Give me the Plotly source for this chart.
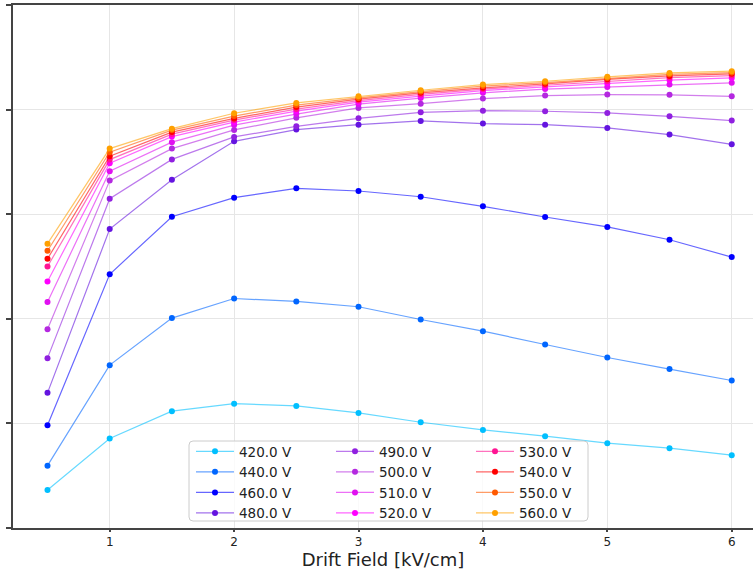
import plotly.graph_objects as go

# Drift field scan points [kV/cm]
drift_field = [0.5, 1.0, 1.5, 2.0, 2.5, 3.0, 3.5, 4.0, 4.5, 5.0, 5.5, 6.0]

# Measured response per amplification voltage (arbitrary units)
v420 = [0.364, 0.855, 1.117, 1.189, 1.167, 1.100, 1.011, 0.938, 0.878, 0.811, 0.763, 0.696]
v440 = [0.596, 1.557, 2.007, 2.194, 2.166, 2.115, 1.993, 1.882, 1.754, 1.630, 1.519, 1.410]
v460 = [0.983, 2.426, 2.976, 3.158, 3.247, 3.222, 3.167, 3.075, 2.973, 2.878, 2.756, 2.590]
v480 = [1.292, 2.858, 3.330, 3.697, 3.809, 3.856, 3.892, 3.866, 3.856, 3.825, 3.761, 3.668]
v490 = [1.624, 3.148, 3.524, 3.739, 3.840, 3.917, 3.974, 3.990, 3.984, 3.968, 3.936, 3.895]
v500 = [1.901, 3.321, 3.627, 3.806, 3.921, 4.016, 4.057, 4.105, 4.134, 4.144, 4.141, 4.127]
v510 = [2.160, 3.411, 3.689, 3.852, 3.957, 4.053, 4.110, 4.160, 4.196, 4.217, 4.239, 4.256]
v520 = [2.357, 3.488, 3.742, 3.880, 3.986, 4.072, 4.129, 4.182, 4.217, 4.249, 4.282, 4.303]
v530 = [2.500, 3.522, 3.766, 3.900, 4.005, 4.086, 4.145, 4.196, 4.233, 4.273, 4.306, 4.325]
v540 = [2.574, 3.555, 3.785, 3.916, 4.024, 4.100, 4.160, 4.208, 4.246, 4.289, 4.322, 4.342]
v550 = [2.651, 3.593, 3.804, 3.938, 4.043, 4.112, 4.172, 4.225, 4.258, 4.301, 4.337, 4.354]
v560 = [2.718, 3.627, 3.818, 3.965, 4.064, 4.127, 4.185, 4.239, 4.271, 4.313, 4.351, 4.367]

voltages = [420.0, 440.0, 460.0, 480.0, 490.0, 500.0, 510.0, 520.0, 530.0, 540.0, 550.0, 560.0]
series = [v420, v440, v460, v480, v490, v500, v510, v520, v530, v540, v550, v560]
colors = ["#00bfff", "#0066ff", "#0000ff", "#6414e0", "#9020e0", "#b428e0",
          "#e010f0", "#ff00ff", "#ff1493", "#ff0000", "#ff5a00", "#ffa000"]
x_ticks = [1, 2, 3, 4, 5, 6]
y_ticks = [0, 1, 2, 3, 4, 5]

W, H = 753, 570
ML, MR, MT, MB = 13, 0, 5, 42
PW, PH = W - ML - MR, H - MT - MB


def hex_rgba(h, a):
    h = h.lstrip("#")
    r, g, b = int(h[0:2], 16), int(h[2:4], 16), int(h[4:6], 16)
    return f"rgba({r},{g},{b},{a})"


def px_x(p):
    return (p - ML) / PW


def px_y(p):
    return (H - MB - p) / PH


fig = go.Figure()
legend_names = ["legend", "legend2", "legend3"]
for i, (v, ys, c) in enumerate(zip(voltages, series, colors)):
    fig.add_trace(go.Scatter(
        x=drift_field, y=ys, mode="lines+markers",
        name=f"{v:.1f} V",
        line=dict(color=hex_rgba(c, 0.6), width=1.2),
        marker=dict(color=c, size=6),
        legend=legend_names[0 if i < 4 else (1 if i < 8 else 2)],
    ))

# Legend frame (rounded box behind the three legend columns)
bx0, by0, bx1, by1, r = px_x(189), px_y(521), px_x(588), px_y(441), 4
rx, ry = r / PW, r / PH
frame = (f"M {bx0 + rx},{by0} L {bx1 - rx},{by0} Q {bx1},{by0} {bx1},{by0 + ry} "
         f"L {bx1},{by1 - ry} Q {bx1},{by1} {bx1 - rx},{by1} "
         f"L {bx0 + rx},{by1} Q {bx0},{by1} {bx0},{by1 - ry} "
         f"L {bx0},{by0 + ry} Q {bx0},{by0} {bx0 + rx},{by0} Z")
fig.add_shape(type="path", path=frame, xref="paper", yref="paper",
              fillcolor="rgba(255,255,255,0.8)", line=dict(color="#cccccc", width=1),
              layer="above")

leg_common = dict(bgcolor="rgba(0,0,0,0)", borderwidth=0, yanchor="top", xanchor="left",
                  font=dict(family="DejaVu Sans", size=13.5, color="#222222"),
                  tracegroupgap=0, itemwidth=38)
leg_top = px_y(436)
fig.update_layout(
    legend=dict(x=px_x(191), y=leg_top, **leg_common),
    legend2=dict(x=px_x(331), y=leg_top, **leg_common),
    legend3=dict(x=px_x(471), y=leg_top, **leg_common),
)

fig.update_layout(
    width=W, height=H,
    margin=dict(l=ML, r=MR, t=MT, b=MB, pad=0),
    paper_bgcolor="white", plot_bgcolor="white",
    font=dict(family="DejaVu Sans", color="#222222"),
    xaxis=dict(
        range=[0.2227, 6.171], tickvals=x_ticks, ticktext=[str(t) for t in x_ticks],
        showgrid=True, gridcolor="#e6e6e6", gridwidth=1, zeroline=False,
        showline=True, linecolor="#444444", linewidth=2, mirror=True,
        ticks="outside", ticklen=2, tickwidth=1.5, tickcolor="#444444",
        tickfont=dict(size=12, color="#222222"),
        title=dict(text="Drift Field [kV/cm]", font=dict(size=18, color="#222222"), standoff=9),
    ),
    yaxis=dict(
        range=[0, 5], tickvals=y_ticks, showticklabels=False,
        showgrid=True, gridcolor="#e6e6e6", gridwidth=1, zeroline=False,
        showline=True, linecolor="#444444", linewidth=2, mirror=False,
        ticks="outside", ticklen=5, tickwidth=1.5, tickcolor="#444444",
    ),
)

fig.write_html("out.html")
